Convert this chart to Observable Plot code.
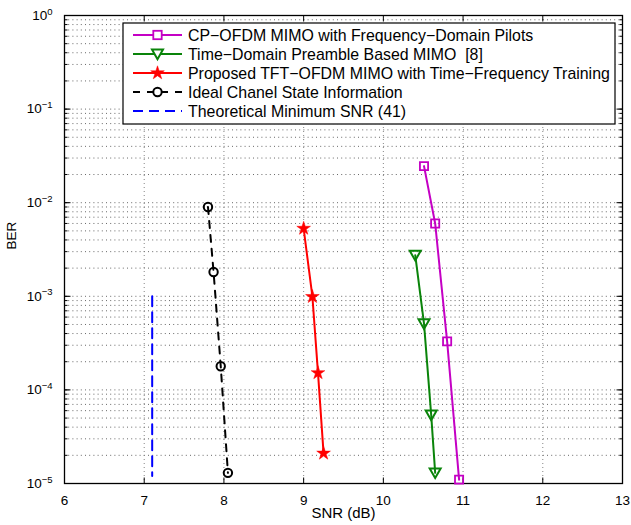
<!DOCTYPE html>
<html><head><meta charset="utf-8">
<script src="https://cdn.jsdelivr.net/npm/d3@7"></script>
<script src="https://cdn.jsdelivr.net/npm/@observablehq/plot@0.6"></script>
<style>
body{margin:0;background:#fff}
#chart svg{font-family:"Liberation Sans",Arial,Helvetica,sans-serif}
</style>
</head><body><div id="chart"></div>
<script>
// ---- data ----
const seriesNames = [
  "CP\u2212OFDM MIMO with Frequency\u2212Domain Pilots",
  "Time\u2212Domain Preamble Based MIMO  [8]",
  "Proposed TFT\u2212OFDM MIMO with Time\u2212Frequency Training",
  "Ideal Chanel State Information",
  "Theoretical Minimum SNR (41)"
];
const cpSnr  = [10.51, 10.65, 10.80, 10.95];
const cpBer  = [0.0246, 0.0060, 3.3e-4, 1.1e-5];
const tdSnr  = [10.40, 10.51, 10.60, 10.65];
const tdBer  = [2.75e-3, 5.1e-4, 5.4e-5, 1.3e-5];
const tftSnr = [9.00, 9.11, 9.18, 9.25];
const tftBer = [5.3e-3, 9.9e-4, 1.52e-4, 2.1e-5];
const csiSnr = [7.80, 7.87, 7.96, 8.05];
const csiBer = [9.0e-3, 1.82e-3, 1.79e-4, 1.3e-5];
const minSnr = [7.1, 7.1];
const minBer = [1e-3, 1.2e-5];
const xTicks = [6, 7, 8, 9, 10, 11, 12, 13];
const yDecades = [1e-5, 1e-4, 1e-3, 1e-2, 1e-1, 1];
const yTickLabels = ["10^\u22125", "10^\u22124", "10^\u22123", "10^\u22122", "10^\u22121", "10^0"];
const xLabel = "SNR (dB)", yLabel = "BER";

const colors = ["#c400c4", "#0a840a", "#ff0000", "#000000", "#0000ff"];

const toRows = (xs, ys) => xs.map((x, i) => ({x, y: ys[i]}));
const cp = toRows(cpSnr, cpBer), td = toRows(tdSnr, tdBer), tft = toRows(tftSnr, tftBer),
      csi = toRows(csiSnr, csiBer), mn = toRows(minSnr, minBer);

// minor log ticks
const yMinor = [];
for (const d of yDecades.slice(0, -1)) for (let m = 1; m <= 9; m++) yMinor.push(m * d);
yMinor.push(1);

// custom symbols
const triDown = {draw(ctx, size) { const r = Math.sqrt(size / Math.PI); ctx.moveTo(-r, -r * 0.8); ctx.lineTo(r, -r * 0.8); ctx.lineTo(0, r * 0.95); ctx.closePath(); }};
const tickSym = (dx, dy) => ({draw(ctx) { ctx.moveTo(0, 0); ctx.lineTo(dx, dy); }});

const grid = {stroke: "#000", strokeWidth: 0.8, strokeDasharray: "1,3.2", strokeOpacity: 0.75};

const plot = Plot.plot({
  width: 631, height: 525,
  marginLeft: 64, marginRight: 9, marginTop: 15, marginBottom: 42,
  style: {fontSize: "14px", fontFamily: "Liberation Sans, Arial, sans-serif", color: "#000"},
  x: {domain: [6, 13]},
  y: {type: "log", domain: [1e-5, 1]},
  marks: [
    Plot.ruleY(yMinor.filter(v => v > 1e-5 && v < 1), {y: d => d, ...grid}),
    Plot.ruleX(xTicks.filter(v => v > 6 && v < 13), {x: d => d, stroke: "#777", strokeWidth: 0.9, strokeDasharray: "1,3"}),
    // inward ticks
    Plot.dot(xTicks, {x: d => d, y: () => 1e-5, symbol: tickSym(0, -6), stroke: "#000", strokeWidth: 1}),
    Plot.dot(xTicks, {x: d => d, y: () => 1, symbol: tickSym(0, 6), stroke: "#000", strokeWidth: 1}),
    Plot.dot(yDecades, {x: () => 6, y: d => d, symbol: tickSym(6, 0), stroke: "#000", strokeWidth: 1}),
    Plot.dot(yDecades, {x: () => 13, y: d => d, symbol: tickSym(-6, 0), stroke: "#000", strokeWidth: 1}),
    Plot.dot(yMinor, {x: () => 6, y: d => d, symbol: tickSym(3, 0), stroke: "#000", strokeWidth: 1}),
    Plot.dot(yMinor, {x: () => 13, y: d => d, symbol: tickSym(-3, 0), stroke: "#000", strokeWidth: 1}),
    Plot.frame({stroke: "#000", strokeWidth: 1.3}),
    Plot.axisX({ticks: xTicks, tickSize: 0, tickPadding: 12, tickFormat: d => String(d), label: null}),
    Plot.axisY({ticks: yDecades, tickSize: 0, tickPadding: 12, tickFormat: (d) => yTickLabels[yDecades.indexOf(d)], label: null}),
    Plot.text([xLabel], {text: d => d, frameAnchor: "bottom", dy: 34, fontSize: 15, fill: "#000"}),
    Plot.text([yLabel], {text: d => d, frameAnchor: "left", dx: -53, dy: 0, rotate: -90, fontSize: 13.5, fill: "#000"}),
    // series
    Plot.line(mn, {x: "x", y: "y", stroke: colors[4], strokeWidth: 2, strokeDasharray: "10,6"}),
    Plot.line(csi, {x: "x", y: "y", stroke: colors[3], strokeWidth: 2, strokeDasharray: "7,7"}),
    Plot.dot(csi, {x: "x", y: "y", r: 4.2, stroke: colors[3], strokeWidth: 2, fill: "none"}),
    Plot.line(tft, {x: "x", y: "y", stroke: colors[2], strokeWidth: 2}),
    Plot.dot(tft, {x: "x", y: "y", symbol: "star", r: 4.3, fill: colors[2], stroke: colors[2], strokeWidth: 0.5}),
    Plot.line(td, {x: "x", y: "y", stroke: colors[1], strokeWidth: 2}),
    Plot.dot(td, {x: "x", y: "y", symbol: triDown, r: 5.5, stroke: colors[1], strokeWidth: 2, fill: "none"}),
    Plot.line(cp, {x: "x", y: "y", stroke: colors[0], strokeWidth: 2}),
    Plot.dot(cp, {x: "x", y: "y", symbol: "square", r: 4.6, stroke: colors[0], strokeWidth: 1.8, fill: "none"})
  ]
});
document.getElementById("chart").appendChild(plot);

// font sizes for tick texts + superscript formatting for y tick labels
d3.select(plot).selectAll('g[aria-label$="tick label"] text').each(function() {
  const sel = d3.select(this);
  const t = this.textContent;
  sel.style("font-size", "13.5px");
  const parts = t.split("^");
  if (parts.length === 2) {
    sel.text(parts[0]);
    sel.append("tspan").attr("dy", "-0.55em").style("font-size", "9.5px").text(parts[1]);
  }
});

// legend inside the plot
const svg = d3.select(plot);
const lg = svg.append("g").attr("aria-label", "legend");
const lx = 123, ly = 23, lw = 492, lh = 101, rowH = 19;
lg.append("rect").attr("x", lx).attr("y", ly).attr("width", lw).attr("height", lh)
  .attr("fill", "#fff").attr("stroke", "#000").attr("stroke-width", 1.2);
const dashes = [null, null, null, "7,7", "10,6"];
seriesNames.forEach((name, i) => {
  const y = ly + 12 + i * rowH;
  const line = lg.append("line").attr("x1", 133).attr("x2", 182).attr("y1", y).attr("y2", y)
    .attr("stroke", colors[i]).attr("stroke-width", 2);
  if (dashes[i]) line.attr("stroke-dasharray", dashes[i]);
  const cx = 157.5;
  if (i === 0) lg.append("rect").attr("x", cx - 4.2).attr("y", y - 4.2).attr("width", 8.4).attr("height", 8.4).attr("fill", "#fff").attr("stroke", colors[0]).attr("stroke-width", 1.8);
  if (i === 1) lg.append("path").attr("d", `M${cx-5.5},${y-4.4}L${cx+5.5},${y-4.4}L${cx},${y+5.2}Z`).attr("fill", "#fff").attr("stroke", colors[1]).attr("stroke-width", 2);
  if (i === 2) lg.append("path").attr("d", d3.symbol(d3.symbolStar, 4.3 * 4.3 * Math.PI)()).attr("transform", `translate(${cx},${y})`).attr("fill", colors[2]).attr("stroke", colors[2]).attr("stroke-width", 0.5);
  if (i === 3) lg.append("circle").attr("cx", cx).attr("cy", y).attr("r", 4.2).attr("fill", "#fff").attr("stroke", "#000").attr("stroke-width", 2);
  lg.append("text").attr("x", 188).attr("y", y).attr("dy", "0.36em").style("font-size", "15.9px")
    .attr("text-anchor", "start").attr("fill", "#000").text(name);
});
</script>
</body></html>
